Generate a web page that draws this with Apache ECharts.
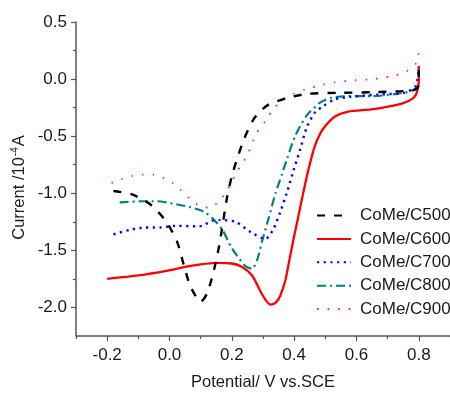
<!DOCTYPE html>
<html><head><meta charset="utf-8">
<script src="https://cdn.jsdelivr.net/npm/echarts@6/dist/echarts.min.js"></script>
<style>html,body{margin:0;padding:0;background:#fff}#c{width:450px;height:396px}</style>
</head><body><div id="c"></div>
<script>
const seriesNames = ['CoMe/C500','CoMe/C600','CoMe/C700','CoMe/C800','CoMe/C900'];

const c500X = [-0.18,-0.12,-0.06,-0.01,0.025,0.045,0.065,0.09,0.10,0.12,0.14,0.155,0.165,0.185,0.20,0.218,0.24,0.27,0.30,0.32,0.38,0.44,0.55,0.65,0.75,0.79,0.80,0.80];
const c500Y = [-0.98,-1.01,-1.10,-1.25,-1.43,-1.62,-1.80,-1.93,-1.95,-1.88,-1.70,-1.52,-1.37,-1.03,-0.85,-0.69,-0.52,-0.35,-0.26,-0.22,-0.165,-0.13,-0.12,-0.115,-0.105,-0.09,-0.05,0.08];

const c600X = [-0.20,-0.10,-0.01,0.05,0.095,0.15,0.20,0.233,0.265,0.292,0.31,0.324,0.34,0.355,0.372,0.385,0.398,0.412,0.425,0.446,0.467,0.485,0.50,0.53,0.573,0.647,0.71,0.75,0.775,0.79,0.797,0.80,0.80];
const c600Y = [-1.75,-1.72,-1.68,-1.645,-1.625,-1.61,-1.615,-1.645,-1.72,-1.86,-1.94,-1.975,-1.96,-1.90,-1.76,-1.58,-1.40,-1.22,-1.05,-0.79,-0.58,-0.47,-0.41,-0.33,-0.285,-0.265,-0.236,-0.21,-0.18,-0.14,-0.08,0.0,0.11];

const c700X = [-0.18,-0.127,-0.08,-0.03,0.02,0.096,0.138,0.16,0.212,0.26,0.308,0.334,0.356,0.377,0.398,0.42,0.44,0.467,0.494,0.53,0.573,0.669,0.754,0.79,0.80];
const c700Y = [-1.36,-1.32,-1.30,-1.30,-1.285,-1.29,-1.24,-1.235,-1.25,-1.34,-1.40,-1.31,-1.16,-0.99,-0.80,-0.61,-0.425,-0.29,-0.236,-0.178,-0.158,-0.135,-0.12,-0.06,0.11];

const c800X = [-0.16,-0.085,-0.04,0.01,0.064,0.11,0.138,0.17,0.20,0.244,0.265,0.281,0.297,0.318,0.34,0.36,0.377,0.403,0.44,0.483,0.52,0.573,0.647,0.73,0.775,0.796,0.80];
const c800Y = [-1.08,-1.07,-1.07,-1.09,-1.12,-1.16,-1.22,-1.32,-1.48,-1.64,-1.66,-1.585,-1.42,-1.22,-1.0,-0.84,-0.70,-0.5,-0.32,-0.207,-0.163,-0.15,-0.15,-0.13,-0.105,-0.06,0.11];

const c900X = [-0.186,-0.154,-0.12,-0.087,-0.053,-0.02,0.01,0.037,0.066,0.098,0.127,0.16,0.186,0.207,0.228,0.249,0.28,0.308,0.334,0.366,0.398,0.435,0.494,0.53,0.595,0.658,0.727,0.76,0.792,0.80];
const c900Y = [-0.91,-0.875,-0.85,-0.836,-0.836,-0.865,-0.91,-0.975,-1.05,-1.115,-1.126,-1.07,-0.97,-0.86,-0.76,-0.67,-0.47,-0.367,-0.26,-0.172,-0.13,-0.09,-0.048,-0.028,-0.01,0.0,0.033,0.068,0.14,0.24];

const xMajorTicks = [-0.2,0.0,0.2,0.4,0.6,0.8];
const xMinorTicks = [-0.3,-0.1,0.1,0.3,0.5,0.7,0.9];
const yMajorTicks = [-2.0,-1.5,-1.0,-0.5,0.0,0.5];
const yMinorTicks = [-1.75,-1.25,-0.75,-0.25,0.25];

const xs = [c500X,c600X,c700X,c800X,c900X];
const ys = [c500Y,c600Y,c700Y,c800Y,c900Y];
const colors = ['#000000','#ff0000','#0000ff','#008080','#ff00ff'];
const dashes = [[8,9],'solid',[2.2,4.5],[9,4,2,4],[1.6,9]];
const widths = [2.4,2.3,2.4,2.2,1.8];

const axisColor = '#555';
const textColor = '#1a1a1a';
const font = 'Liberation Sans, Arial, sans-serif';

const chart = echarts.init(document.getElementById('c'), null, {renderer:'canvas'});
chart.setOption({
  animation:false,
  backgroundColor:'#fff',
  grid:{left:76, right:-3, top:22, bottom:58, containLabel:false},
  xAxis:[{
    type:'value', min:-0.3, max:0.9, interval:0.1, position:'bottom',
    axisLine:{show:true, onZero:false, lineStyle:{color:axisColor, width:1.5}},
    axisTick:{show:true, inside:false, length:5, customValues:xMajorTicks, lineStyle:{color:axisColor, width:1.2}},
    axisLabel:{show:true, margin:11, customValues:xMajorTicks, color:textColor, fontSize:17, fontFamily:font, formatter:v=>v.toFixed(1)},
    splitLine:{show:false},
    name:'Potential/ V vs.SCE', nameLocation:'middle', nameGap:38,
    nameTextStyle:{color:textColor, fontSize:16.5, fontFamily:font}
  },{
    type:'value', min:-0.3, max:0.9, interval:0.1, position:'bottom',
    axisLine:{show:false, onZero:false},
    axisTick:{show:true, inside:false, length:3, customValues:xMinorTicks, lineStyle:{color:axisColor, width:1.2}},
    axisLabel:{show:false}, splitLine:{show:false}
  }],
  yAxis:[{
    type:'value', min:-2.25, max:0.5, interval:0.25, position:'left',
    axisLine:{show:true, onZero:false, lineStyle:{color:axisColor, width:1.5}},
    axisTick:{show:true, inside:false, length:5, customValues:yMajorTicks, lineStyle:{color:axisColor, width:1.2}},
    axisLabel:{show:true, margin:9, customValues:yMajorTicks, color:textColor, fontSize:17, fontFamily:font, formatter:v=>v.toFixed(1)},
    splitLine:{show:false}
  },{
    type:'value', min:-2.25, max:0.5, interval:0.25, position:'left',
    axisLine:{show:false, onZero:false},
    axisTick:{show:true, inside:false, length:3, customValues:yMinorTicks, lineStyle:{color:axisColor, width:1.2}},
    axisLabel:{show:false}, splitLine:{show:false}
  }],
  legend:{
    orient:'vertical', left:316, top:207, padding:0, itemWidth:34, itemHeight:14, itemGap:6.4,
    itemStyle:{opacity:0},
    textStyle:{color:textColor, fontSize:17, fontFamily:font, padding:[0,0,0,4]},
    data:seriesNames
  },
  graphic:[{
    type:'text', x:19, y:187.5, rotation:Math.PI/2,
    style:{
      text:'{m|Current /10}{s|-4}{m|A}',
      align:'center', verticalAlign:'middle',
      rich:{
        m:{fontSize:16.5, fontFamily:font, fill:textColor, lineHeight:18},
        s:{fontSize:10, fontFamily:font, fill:textColor, lineHeight:18, verticalAlign:'top', padding:[0,1,8,1]}
      }
    }
  }],
  series: seriesNames.map((n,i)=>({
    name:n, type:'line', xAxisIndex:0, yAxisIndex:0,
    symbol:'none', smooth:0.25,
    data: xs[i].map((x,j)=>[x, ys[i][j]]),
    lineStyle:{color:colors[i], width:widths[i], type:dashes[i]},
    itemStyle:{color:colors[i]},
    z: 10-i
  }))
});
</script></body></html>
